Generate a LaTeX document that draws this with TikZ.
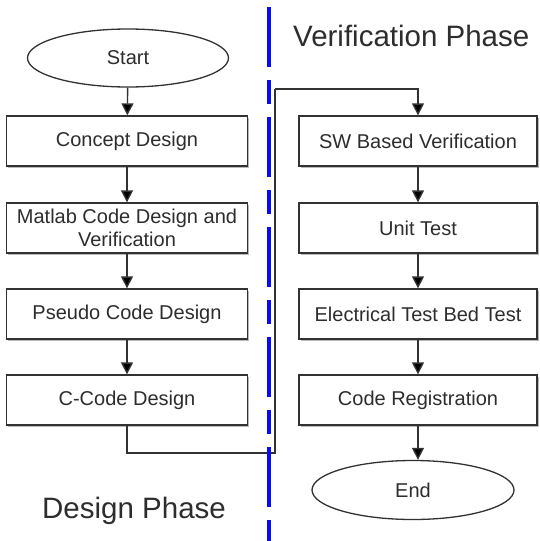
\documentclass[tikz,border=0pt]{standalone}
\usepackage{fontspec}
\setmainfont{Liberation Sans}
\usetikzlibrary{arrows.meta,shapes.geometric,shadows}
\definecolor{inkgray}{RGB}{50,50,50}
\definecolor{txtgray}{RGB}{45,45,45}
\definecolor{phaseblue}{RGB}{10,10,250}
\tikzset{
  boxshadow/.style={drop shadow={shadow xshift=1.6pt,shadow yshift=-1.6pt,fill=gray!55,opacity=1}},
  stepbox/.style={draw=inkgray,line width=1.3pt,fill=white,rectangle,minimum width=241pt,
    minimum height=50pt,inner sep=2pt,align=center,text=txtgray,
    font=\fontsize{20}{23}\selectfont,boxshadow},
  terminal/.style={draw=inkgray,line width=1.3pt,fill=white,ellipse,minimum width=201pt,
    minimum height=58pt,inner sep=0pt,text=txtgray,font=\fontsize{20}{23}\selectfont},
  flow/.style={draw=inkgray,line width=1.4pt,-{Triangle[length=12pt,width=12pt,fill=black]}},
  link/.style={draw=inkgray,line width=1.4pt},
  phasetitle/.style={anchor=base west,inner sep=0pt,text=txtgray,font=\fontsize{29.5}{32}\selectfont},
  divider/.style={draw=phaseblue,line width=3.2pt,dash pattern=on 60pt off 13pt on 24pt off 13pt}
}
\begin{document}
\begin{tikzpicture}[x=1pt,y=-1pt]
\useasboundingbox (0,0) rectangle (539,541);

% design column
\node[terminal] (start) at (128,58) {Start};
\node[stepbox] (concept) at (127,141) {Concept Design};
\node[stepbox] (matlab) at (127,228) {Matlab Code Design and\\Verification};
\node[stepbox] (pseudo) at (127,314) {Pseudo Code Design};
\node[stepbox] (ccode) at (127,400) {C-Code Design};

% verification column
\node[stepbox,minimum width=238pt] (sw) at (418,141) {SW Based Verification};
\node[stepbox,minimum width=238pt] (unit) at (418,228) {Unit Test};
\node[stepbox,minimum width=238pt] (elec) at (418,314) {Electrical Test Bed Test};
\node[stepbox,minimum width=238pt] (reg) at (418,400) {Code Registration};
\node[terminal,minimum width=202pt,minimum height=59pt] (end) at (413,490) {End};

% phase titles
\node[phasetitle] (vtitle) at (293,46) {Verification Phase};
\node[phasetitle] (dtitle) at (42,518) {Design Phase};

% arrows within the columns
\draw[flow] (start) -- (concept);
\draw[flow] (concept) -- (matlab);
\draw[flow] (matlab) -- (pseudo);
\draw[flow] (pseudo) -- (ccode);
\draw[flow] (sw) -- (unit);
\draw[flow] (unit) -- (elec);
\draw[flow] (elec) -- (reg);
\draw[flow] (reg) -- (reg |- end.north);

% hand-over from design to verification
\coordinate (lowbend) at (275,453);
\coordinate (highbend) at (275,89);
\draw[link] (ccode.south) |- (lowbend) -- (highbend);
\draw[flow] (highbend) -| (sw.north);

% phase divider
\coordinate (divtop) at (269,7);
\coordinate (divbot) at (269,541);
\draw[divider] (divtop) -- (divbot);
\end{tikzpicture}
\end{document}
